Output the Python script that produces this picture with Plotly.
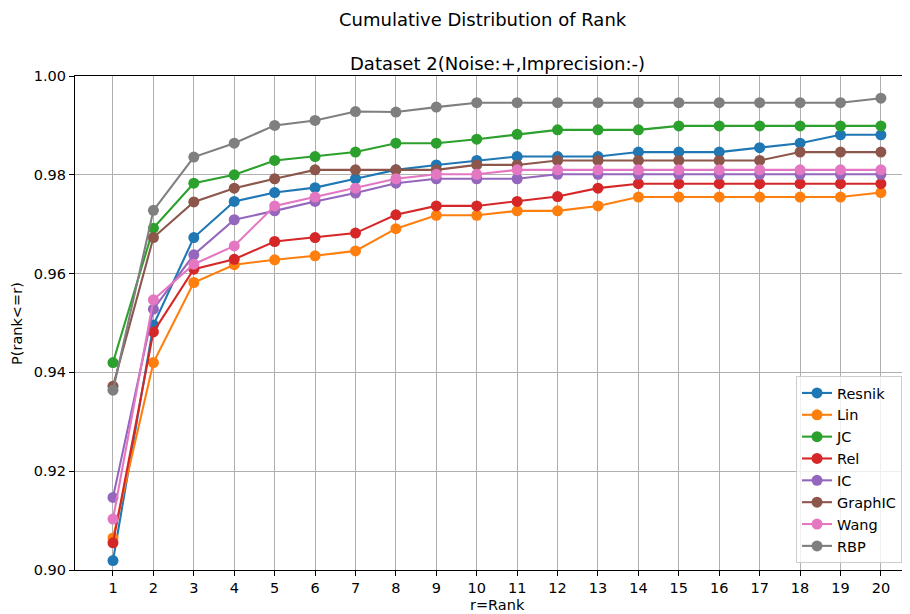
import plotly.graph_objects as go

ranks = list(range(1, 21))
series_names = ["Resnik", "Lin", "JC", "Rel", "IC", "GraphIC", "Wang", "RBP"]
colors = ["#1f77b4", "#ff7f0e", "#2ca02c", "#d62728", "#9467bd", "#8c564b", "#e377c2", "#7f7f7f"]

resnik = [0.9019, 0.9496, 0.9673, 0.9746, 0.9764, 0.9774, 0.9792, 0.9810, 0.9820, 0.9829,
          0.9837, 0.9837, 0.9837, 0.9846, 0.9846, 0.9846, 0.9855, 0.9864, 0.9881, 0.9881]
lin = [0.9065, 0.9420, 0.9582, 0.9618, 0.9628, 0.9636, 0.9646, 0.9691, 0.9718, 0.9718,
       0.9727, 0.9727, 0.9737, 0.9755, 0.9755, 0.9755, 0.9755, 0.9755, 0.9755, 0.9764]
jc = [0.9420, 0.9692, 0.9783, 0.9800, 0.9829, 0.9837, 0.9846, 0.9864, 0.9864, 0.9872,
      0.9882, 0.9891, 0.9891, 0.9891, 0.9899, 0.9899, 0.9899, 0.9899, 0.9899, 0.9899]
rel = [0.9055, 0.9482, 0.9609, 0.9629, 0.9665, 0.9673, 0.9682, 0.9719, 0.9737, 0.9737,
       0.9746, 0.9756, 0.9773, 0.9782, 0.9782, 0.9782, 0.9782, 0.9782, 0.9782, 0.9782]
ic = [0.9147, 0.9528, 0.9638, 0.9709, 0.9727, 0.9746, 0.9763, 0.9783, 0.9792, 0.9792,
      0.9792, 0.9801, 0.9801, 0.9801, 0.9801, 0.9801, 0.9801, 0.9801, 0.9801, 0.9801]
graphic = [0.9372, 0.9673, 0.9745, 0.9773, 0.9792, 0.9810, 0.9810, 0.9810, 0.9810, 0.9820,
           0.9820, 0.9829, 0.9829, 0.9829, 0.9829, 0.9829, 0.9829, 0.9846, 0.9846, 0.9846]
wang = [0.9103, 0.9547, 0.9619, 0.9656, 0.9737, 0.9755, 0.9773, 0.9792, 0.9801, 0.9801,
        0.9810, 0.9810, 0.9810, 0.9810, 0.9810, 0.9810, 0.9810, 0.9810, 0.9810, 0.9810]
rbp = [0.9364, 0.9728, 0.9836, 0.9864, 0.9900, 0.9910, 0.9928, 0.9927, 0.9937, 0.9946,
       0.9946, 0.9946, 0.9946, 0.9946, 0.9946, 0.9946, 0.9946, 0.9946, 0.9946, 0.9955]

all_series = [resnik, lin, jc, rel, ic, graphic, wang, rbp]
y_ticks = [0.90, 0.92, 0.94, 0.96, 0.98, 1.00]

FONT = "DejaVu Sans"
FS = 14.5

fig = go.Figure()
for name, col, vals in zip(series_names, colors, all_series):
    fig.add_trace(go.Scatter(
        x=ranks, y=vals, name=name, mode="lines+markers",
        line=dict(color=col, width=2.1),
        marker=dict(color=col, size=11),
        legendgroup=name,
    ))

# The page body has an 8px default margin, so the figure is made 8px smaller
# and its left/top margins 8px tighter to line up with the reference.
fig.update_layout(
    width=902, height=606,
    margin=dict(l=67, r=0, t=68, b=44, autoexpand=False),
    paper_bgcolor="white", plot_bgcolor="white",
    font=dict(family=FONT, size=FS, color="black"),
    showlegend=True,
    legend=dict(
        x=0.8635, y=0.3927, xanchor="left", yanchor="top",
        bgcolor="rgba(255,255,255,0.8)", bordercolor="#cccccc", borderwidth=1,
        font=dict(family=FONT, size=FS, color="black"),
        tracegroupgap=0, itemwidth=30,
    ),
    annotations=[
        dict(text="Cumulative Distribution of Rank", x=0.4886, y=1.1134, xref="paper", yref="paper",
             xanchor="center", yanchor="middle", showarrow=False, font=dict(size=18)),
        dict(text="Dataset 2(Noise:+,Imprecision:-)", x=0.5054, y=1.0263, xref="paper", yref="paper",
             xanchor="center", yanchor="middle", showarrow=False, font=dict(size=18)),
        dict(text="r=Rank", x=0.5054, y=-0.0709, xref="paper", yref="paper",
             xanchor="center", yanchor="middle", showarrow=False, font=dict(size=FS)),
        dict(text="P(rank<=r)", x=-0.0695, y=0.5, xref="paper", yref="paper", textangle=-90,
             xanchor="center", yanchor="middle", showarrow=False, font=dict(size=FS)),
    ],
)
fig.update_xaxes(
    range=[0.06, 20.72], tickmode="array", tickvals=ranks, ticktext=[str(r) for r in ranks],
    showgrid=True, gridcolor="#b0b0b0", gridwidth=1.1,
    showline=True, linecolor="black", linewidth=1.1, mirror=True,
    ticks="outside", ticklen=5, tickwidth=1.1, tickcolor="black", zeroline=False,
    automargin=False,
)
fig.update_yaxes(
    range=[0.90, 1.00], tickmode="array", tickvals=y_ticks, ticktext=[f"{v:.2f}" for v in y_ticks],
    showgrid=True, gridcolor="#b0b0b0", gridwidth=1.1,
    showline=True, linecolor="black", linewidth=1.1, mirror=False,
    ticks="outside", ticklen=5, tickwidth=1.1, tickcolor="black", zeroline=False,
    automargin=False,
)

fig.write_html("out.html")
